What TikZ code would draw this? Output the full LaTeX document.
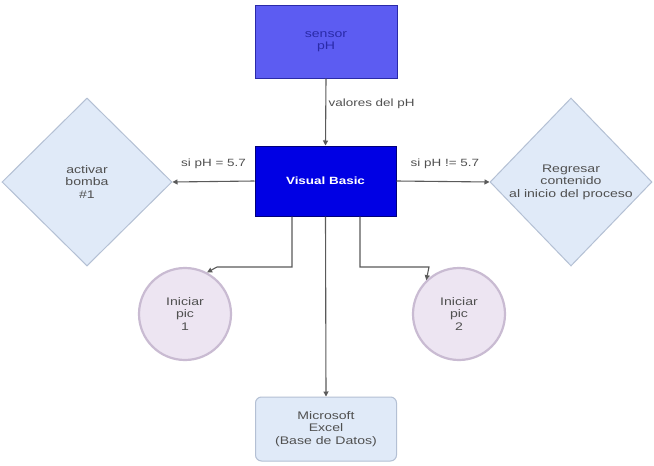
\documentclass[tikz,border=0pt]{standalone}
\usepackage{fontspec}
\setmainfont[FakeStretch=1.28]{Liberation Sans}
\usetikzlibrary{shapes.geometric,arrows.meta}
\definecolor{topblue}{HTML}{5C5CF2}
\definecolor{topedge}{HTML}{2A2AA8}
\definecolor{vbblue}{HTML}{0000E4}
\definecolor{vbedge}{HTML}{00007A}
\definecolor{paleblue}{HTML}{E0EAF8}
\definecolor{paleedge}{HTML}{B4C0D4}
\definecolor{palepurple}{HTML}{EDE5F2}
\definecolor{purpleedge}{HTML}{C9BBD2}
\definecolor{txtgray}{HTML}{505050}
\definecolor{linegray}{HTML}{5A5A5A}
\begin{document}
\begin{tikzpicture}[x=1pt,y=-1pt,
  every node/.style={font=\fontsize{11}{12.5}\selectfont, align=center},
  boxstyle/.style={draw, rectangle, inner sep=0pt, line width=1pt},
  decision/.style={diamond, draw=paleedge, fill=paleblue, line width=1pt, inner sep=0pt, text=txtgray},
  picnode/.style={circle, draw=purpleedge, fill=palepurple, line width=2.2pt, minimum size=92pt, inner sep=0pt, text=txtgray},
  conn/.style={draw=linegray, line width=1.1pt, -{Triangle[length=5pt,width=5pt]}, shorten >=0pt},
  lbl/.style={text=txtgray, font=\fontsize{10.5}{12}\selectfont}
]
\useasboundingbox (0,0) rectangle (654,466);
\fill[white] (0,0) rectangle (654,466);
\node[boxstyle, draw=topedge, fill=topblue, text=topedge, minimum width=142pt, minimum height=73pt] (sensor) at (326,41.5) {sensor\\pH};
\node[boxstyle, draw=vbedge, fill=vbblue, text=white, minimum width=141pt, minimum height=70pt, font=\bfseries\fontsize{10.5}{12}\selectfont] (vb) at (325.5,181) {Visual Basic};
\node[decision, minimum width=170pt, minimum height=168pt] (act) at (87,182) {activar\\bomba\\\#1};
\node[decision, minimum width=162pt, minimum height=168pt] (reg) at (571,182) {Regresar\\contenido\\al inicio del proceso};
\node[picnode] (pic1) at (185,314) {Iniciar\\pic\\1};
\node[picnode] (pic2) at (459,314) {Iniciar\\pic\\2};
\node[boxstyle, draw=paleedge, fill=paleblue, text=txtgray, rounded corners=6pt, minimum width=141pt, minimum height=64pt] (xl) at (326,429) {Microsoft\\Excel\\(Base de Datos)};
\coordinate (p1) at (217,267);
\coordinate (p2) at (429,267);
\draw[conn] (sensor.south) -- node[lbl, right, pos=0.38, xshift=-1pt] {valores del pH} (vb.north);
\draw[conn] (vb.west) -- node[lbl, above, yshift=9pt] {si pH = 5.7} (act.east);
\draw[conn] (vb.east) -- node[lbl, above, yshift=9pt, pos=0.52] {si pH != 5.7} (reg.west);
\draw[conn] (vb.south) -- (xl.north);
\draw[conn] (vb.south -| 292,0) |- (p1) -- (pic1.62);
\draw[conn] (vb.south -| 360,0) |- (p2) -- (pic2.134);
\end{tikzpicture}
\end{document}
